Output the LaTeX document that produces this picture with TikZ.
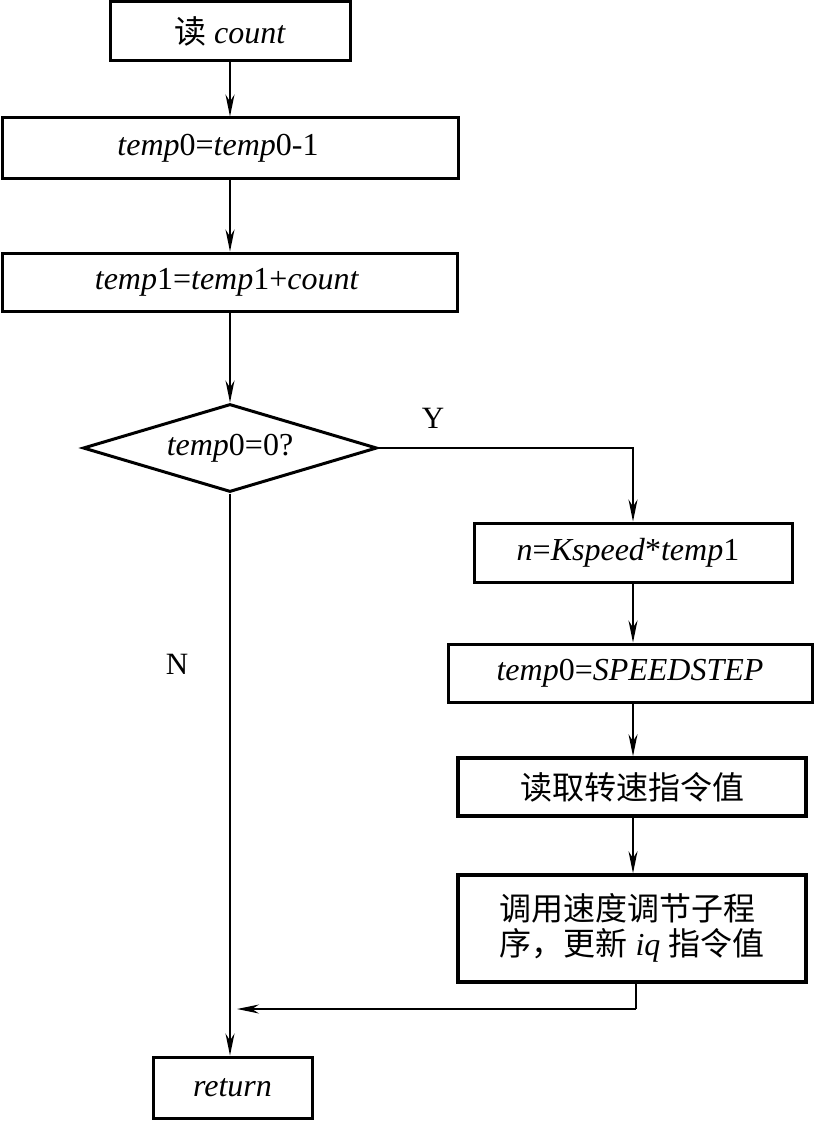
\documentclass[tikz,border=0pt]{standalone}
\usepackage{fontspec}
\setmainfont{Liberation Serif}
\newfontfamily\cjk{Noto Sans CJK SC}
\usetikzlibrary{arrows.meta,shapes.geometric}
\tikzset{
  box/.style={draw, line width=3pt, rectangle, inner sep=0pt, font=\fontsize{32}{35}\selectfont},
  boxb/.style={box, line width=3.6pt},
  dec/.style={draw, line width=3pt, diamond, aspect=3.3, inner sep=0pt, font=\fontsize{32}{35}\selectfont},
  conn/.style={line width=1.4pt, -{Stealth[length=22pt, width=9pt, inset=7pt]}},
  plain/.style={line width=1.4pt},
  lbl/.style={font=\fontsize{31}{34}\selectfont, inner sep=0pt}
}
\begin{document}
\begin{tikzpicture}[x=1pt, y=-1pt]
\useasboundingbox (0,0) rectangle (818,1121);
\node[box, minimum width=240pt, minimum height=59pt] (b1) at (230,31.5) {{\cjk 读} \textit{count}};
\node[box, minimum width=456pt, minimum height=60pt] (b2) at (230,148) {\textit{temp}0=\textit{temp}0-1\hspace*{24pt}};
\node[box, minimum width=455pt, minimum height=58pt] (b3) at (230,282) {\textit{temp}1=\textit{temp}1+\textit{count}\hspace*{6pt}};
\node[dec, minimum width=294pt, minimum height=88pt] (d) at (230,448) {\textit{temp}0=0?};
\node[box, minimum width=318pt, minimum height=59pt] (b5) at (633,552.5) {\textit{n}=\textit{Kspeed}*\textit{temp}1\hspace*{10pt}};
\node[box, minimum width=364pt, minimum height=58pt] (b6) at (630,673) {\textit{temp}0=\textit{SPEEDSTEP}};
\node[boxb, minimum width=348pt, minimum height=58pt] (b7) at (632,787) {\cjk 读取转速指令值};
\node[boxb, minimum width=348pt, minimum height=107pt] (b8) at (632,928.5) {};
\node[lbl, align=left, font=\fontsize{32}{35}\selectfont] (t8) at (632,928) {{\cjk 调用速度调节子程}\\{\cjk 序，更新} \textit{iq} {\cjk 指令值}};
\node[box, minimum width=159pt, minimum height=61pt] (ret) at (232.5,1087.5) {\textit{return}};
\node[lbl] (ly) at (433,418) {Y};
\node[lbl] (ln) at (177,664) {N};
\coordinate (fbend) at (636,1009);
\coordinate (fbtip) at (237,1009);
\draw[conn] (b1) -- (b2);
\draw[conn] (b2) -- (b3);
\draw[conn] (b3) -- (d);
\draw[conn] (d.east) -| (b5.north);
\draw[conn] (b5.south) -- (b5.south |- b6.north);
\draw[conn] (b5.south |- b6.south) -- (b5.south |- b7.north);
\draw[conn] (b5.south |- b7.south) -- (b5.south |- b8.north);
\draw[plain] (b8.south -| fbend) -- (fbend);
\draw[conn] (fbend) -- (fbtip);
\draw[conn] (d.south) -- (d.south |- ret.north);
\end{tikzpicture}
\end{document}
